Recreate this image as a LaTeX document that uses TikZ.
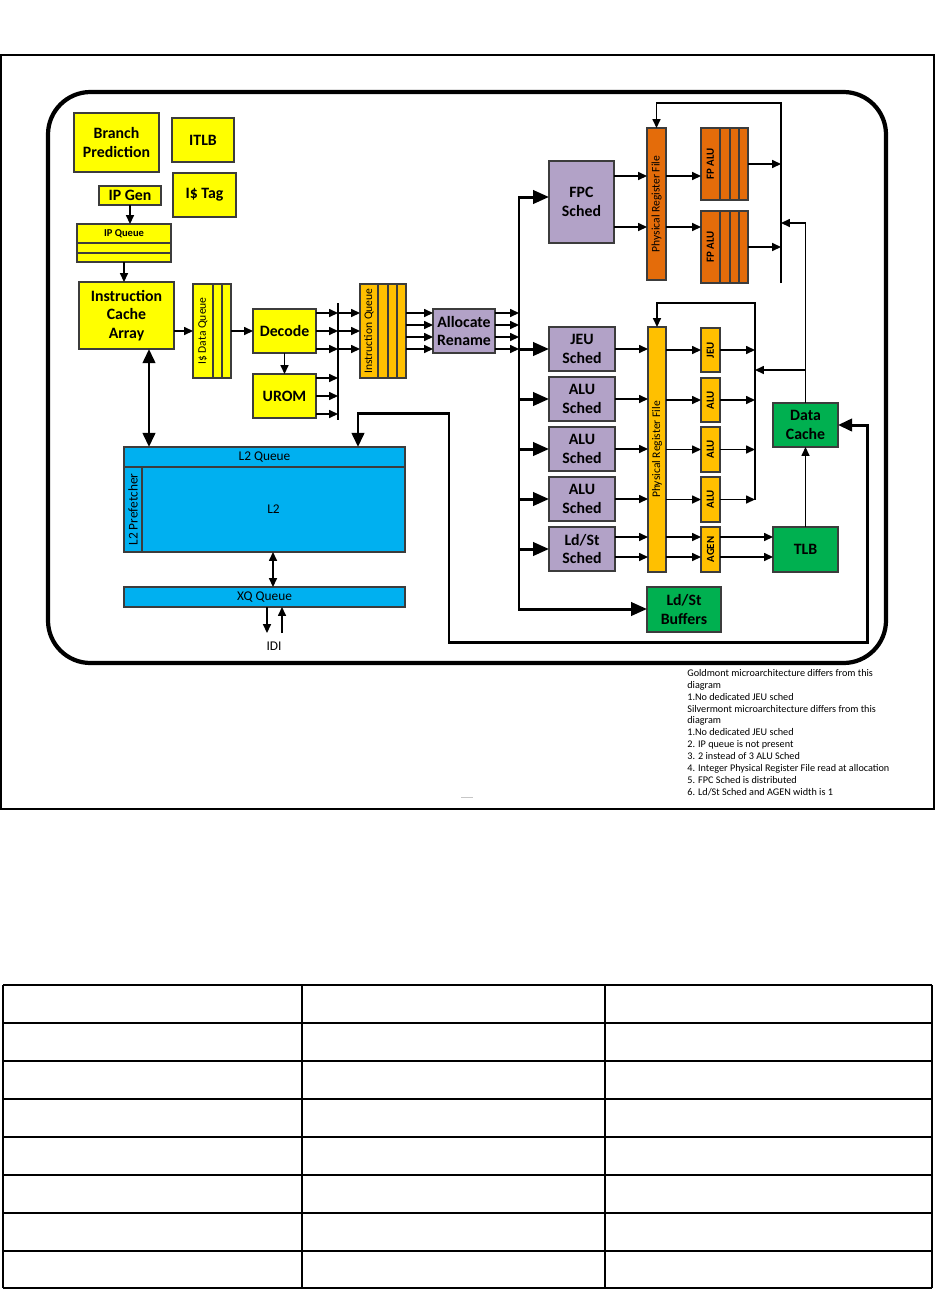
\documentclass[tikz,border=0pt]{standalone}
\usepackage{fontspec}
\setmainfont{Carlito}
\usetikzlibrary{arrows.meta,calc}
\definecolor{yel}{RGB}{255,255,0}
\definecolor{purp}{RGB}{178,162,199}
\definecolor{fporange}{RGB}{228,108,10}
\definecolor{gold}{RGB}{255,192,0}
\definecolor{l2blue}{RGB}{0,176,240}
\definecolor{grn}{RGB}{0,176,80}
\definecolor{bord}{RGB}{60,60,60}
\newcommand\mkbox[7]{\node[#1, minimum width={(#4-#2)*0.02cm}, minimum height={(#5-#3)*0.02cm}] (#6) at ({(#2+#4)/2},{(#3+#5)/2}) {#7};}
\begin{document}
\begin{tikzpicture}[x=0.02cm,y=-0.02cm,
  box/.style={draw=bord, line width=0.8pt, inner sep=0pt, outer sep=0pt, align=center, font=\bfseries\fontsize{9}{10.6}\selectfont},
  yb/.style={box, fill=yel}, pb/.style={box, fill=purp}, ob/.style={box, fill=fporange},
  gb/.style={box, fill=gold}, bb/.style={box, fill=l2blue}, grb/.style={box, fill=grn},
  rlab/.style={rotate=90, inner sep=0pt, font=\fontsize{6.6}{7.5}\selectfont},
  rlabb/.style={rotate=90, inner sep=0pt, font=\bfseries\fontsize{6.2}{7}\selectfont},
  arr/.style={-{Triangle[length=5pt,width=4.5pt]}, line width=0.75pt},
  darr/.style={{Triangle[length=5pt,width=4.5pt]}-{Triangle[length=5pt,width=4.5pt]}, line width=0.75pt},
  tarr/.style={-{Triangle[length=9pt,width=7.5pt]}, line width=1.7pt},
  tdarr/.style={{Triangle[length=8pt,width=7pt]}-{Triangle[length=8pt,width=7pt]}, line width=1.7pt},
  bus/.style={line width=1.4pt},
  sep/.style={draw=bord, line width=0.8pt},
  plain/.style={inner sep=0pt, font=\fontsize{7.6}{9}\selectfont}
]
\useasboundingbox (0,0) rectangle (936,1289);
% frames
\draw[line width=0.6pt] (1,55) rectangle (934,809);
\draw[line width=2.4pt, rounded corners=0.85cm] (48,92) rectangle (886,663);

% front end
\mkbox{yb}{74}{113}{159}{172}{bp}{Branch\\Prediction}
\mkbox{yb}{172}{118}{234}{162}{itlb}{ITLB}
\mkbox{yb}{173}{173}{236}{217}{itag}{I\$ Tag}
\mkbox{yb}{99}{186}{161}{205}{ipgen}{IP Gen}
\mkbox{yb}{77}{224}{171}{262}{ipq}{}
\foreach \y in {243,253} \draw[sep] (ipq.west |- 0,\y) -- (ipq.east |- 0,\y);
\node[inner sep=0pt, font=\bfseries\fontsize{6}{7}\selectfont] (ipqt) at (124,233.5) {IP Queue};
\mkbox{yb}{79}{282}{174}{349}{ica}{Instruction\\Cache\\Array}
\mkbox{yb}{193}{284}{231}{378}{idq}{}
\foreach \x in {213,222} \draw[sep] (\x,0 |- idq.north) -- (\x,0 |- idq.south);
\node[rlab] (idqt) at (203,331) {I\$ Data Queue};
\mkbox{yb}{253}{309}{316}{353}{dec}{Decode}
\mkbox{yb}{253}{374}{316}{418}{urom}{UROM}
\mkbox{gb}{360}{284}{406}{378}{iq}{}
\foreach \x in {378,388,397} \draw[sep] (\x,0 |- iq.north) -- (\x,0 |- iq.south);
\node[rlab] (iqt) at (369,331) {Instruction Queue};
\mkbox{pb}{433}{309}{495}{353}{alloc}{Allocate\\Rename}

% FP cluster
\mkbox{pb}{549}{161}{614}{243}{fpc}{FPC\\Sched}
\mkbox{ob}{647}{128}{666}{280}{fprf}{}
\node[rlab] (fprft) at (fprf) {Physical Register File};
\mkbox{ob}{701}{128}{748}{200}{fpalu1}{}
\mkbox{ob}{701}{211}{748}{283}{fpalu2}{}
\foreach \x in {720,730,739} {
  \draw[sep] (\x,0 |- fpalu1.north) -- (\x,0 |- fpalu1.south);
  \draw[sep] (\x,0 |- fpalu2.north) -- (\x,0 |- fpalu2.south);
}
\node[rlabb] (fa1t) at (710.5,164) {FP ALU};
\node[rlabb] (fa2t) at (710.5,247) {FP ALU};

% integer cluster
\mkbox{pb}{549}{327}{615}{371}{jeu}{JEU\\Sched}
\mkbox{pb}{549}{377}{615}{421}{alu1s}{ALU\\Sched}
\mkbox{pb}{549}{427}{615}{471}{alu2s}{ALU\\Sched}
\mkbox{pb}{549}{477}{615}{521}{alu3s}{ALU\\Sched}
\mkbox{pb}{549}{527}{615}{571}{ldsts}{Ld/St\\Sched}
\mkbox{gb}{648}{327}{666}{572}{iprf}{}
\node[rlab] (iprft) at (iprf) {Physical Register File};
\mkbox{gb}{701}{328}{720}{372}{ujeu}{}
\mkbox{gb}{701}{378}{720}{422}{ualu1}{}
\mkbox{gb}{701}{427}{720}{472}{ualu2}{}
\mkbox{gb}{701}{477}{720}{522}{ualu3}{}
\mkbox{gb}{701}{527}{720}{572}{agen}{}
\node[rlabb] (ujeut) at (ujeu) {JEU};
\node[rlabb] (ualu1t) at (ualu1) {ALU};
\node[rlabb] (ualu2t) at (ualu2) {ALU};
\node[rlabb] (ualu3t) at (ualu3) {ALU};
\node[rlabb] (agent) at (agen) {AGEN};
\mkbox{grb}{773}{403}{838}{447}{dc}{Data\\Cache}
\mkbox{grb}{773}{527}{838}{572}{tlb}{TLB}
\mkbox{grb}{647}{587}{721}{632}{lsb}{Ld/St\\Buffers}

% L2
\mkbox{bb}{124}{447}{405}{552}{l2}{}
\draw[sep] (l2.west |- 0,467) -- (l2.east |- 0,467);
\draw[sep] (142,467) -- (142,0 |- l2.south);
\node[plain] (l2qt) at (264.5,457) {L2 Queue};
\node[plain] (l2t) at (273.5,509.5) {L2};
\node[plain, rotate=90] (l2pt) at (133,509.5) {L2 Prefetcher};
\mkbox{bb}{124}{587}{405}{607}{xq}{}
\node[plain] (xqt) at (xq) {XQ Queue};
\node[plain] (idi) at (274,646) {IDI};

% coordinates
\coordinate (dbt) at (338,303);
\coordinate (dbb) at (338,420);
\coordinate (bt) at (519,197);
\coordinate (bb) at (519,609);
\coordinate (fpbt) at (781,103);
\coordinate (fpbb) at (781,283);
\coordinate (fpin) at (781,223);
\coordinate (ibt) at (755,303);
\coordinate (ibb) at (755,500);
\coordinate (iin) at (755,370);
\coordinate (xa) at (149,400);
\coordinate (lx) at (273,570);
\coordinate (i1) at (267,633);
\coordinate (i2) at (282,633);

% front-end connectors
\draw[arr] (ipgen.south) -- (ipgen.south |- ipq.north);
\draw[arr] (ipq.south) -- (ipq.south |- ica.north);
\draw[arr] (ica.east |- idq.west) -- (idq.west);
\draw[arr] (idq.east |- dec.west) -- (dec.west);
\draw[arr] (dec.south) -- (dec.south |- urom.north);
\draw[bus] (dbt) -- (dbb);
\foreach \d in {-18,0,18} {
  \coordinate (t) at ($(dec.east)+(0,\d)$);
  \draw[arr] (t) -- (t -| dbt);
  \draw[arr] (t -| dbt) -- (t -| iq.west);
  \coordinate (u) at ($(urom.east)+(0,\d)$);
  \draw[arr] (u) -- (u -| dbt);
}
\foreach \d in {-18,-6,6,18} {
  \coordinate (t) at ($(alloc.west)+(0,\d)$);
  \draw[arr] (t -| iq.east) -- (t);
  \draw[arr] (t -| alloc.east) -- (t -| bt);
}

% dispatch bus
\draw[tarr] (bb) -- (bt) -- (bt -| fpc.west);
\draw[tarr] (bt) -- (bb) -- (bb -| lsb.west);
\foreach \n in {jeu,alu1s,alu2s,alu3s,ldsts} \draw[tarr] (\n.west -| bt) -- (\n.west);

% FP connectors
\foreach \d in {-26,25} {
  \coordinate (t) at ($(fpc.east)+(0,\d)$);
  \draw[arr] (t) -- (t -| fprf.west);
  \draw[arr] (t -| fprf.east) -- (t -| fpalu1.west);
}
\draw[arr] (fpalu1.east) -- (fpalu1.east -| fpbt);
\draw[arr] (fpalu2.east) -- (fpalu2.east -| fpbt);
\draw[arr] (fpbb) -- (fpbt) -| (fprf.north);

% integer connectors
\foreach \n in {jeu,alu1s,alu2s,alu3s} \draw[arr] (\n.east) -- (\n.east -| iprf.west);
\foreach \n in {ujeu,ualu1,ualu2,ualu3} {
  \draw[arr] (\n.west -| iprf.east) -- (\n.west);
  \draw[arr] (\n.east) -- (\n.east -| ibt);
}
\foreach \d in {-12,8} {
  \coordinate (t) at ($(ldsts.east)+(0,\d)$);
  \draw[arr] (t) -- (t -| iprf.west);
  \draw[arr] (t -| iprf.east) -- (t -| agen.west);
  \draw[arr] (t -| agen.east) -- (t -| tlb.west);
}
\draw[arr] (ibb) -- (ibt) -| (iprf.north);
\draw[arr] (tlb.north) -- (dc.south);
\draw[arr] (dc.north) |- (fpin);
\draw[arr] (dc.north |- iin) -- (iin);

% memory connectors
\draw[tdarr] (dc.east) -| (867,642) -- (449,642) |- (358,413) -- (358,0 |- l2.north);
\draw[tdarr] (xa |- ica.south) -- (xa |- l2.north);
\draw[darr] (lx |- l2.south) -- (lx |- xq.north);
\draw[arr] (i1 |- xq.south) -- (i1);
\draw[arr] (i2) -- (i2 |- xq.south);

% notes
\node[anchor=north west, align=left, inner sep=0pt, font=\fontsize{5.8}{6.75}\selectfont] (notes) at (687,669) {Goldmont microarchitecture differs from this\\diagram\\1.No dedicated JEU sched\\Silvermont microarchitecture differs from this\\diagram\\1.No dedicated JEU sched\\2. IP queue is not present\\3. 2 instead of 3 ALU Sched\\4. Integer Physical Register File read at allocation\\5. FPC Sched is distributed\\6. Ld/St Sched and AGEN width is 1};
\draw[gray!45, line width=0.5pt] (461,797) -- (473,797);

% table
\foreach \y in {985,1023,1061,1099,1137,1175,1213,1251,1288} \draw[line width=0.7pt] (3,\y) -- (932,\y);
\foreach \x in {3,302,605,932} \draw[line width=0.7pt] (\x,985) -- (\x,1288);
\end{tikzpicture}
\end{document}
